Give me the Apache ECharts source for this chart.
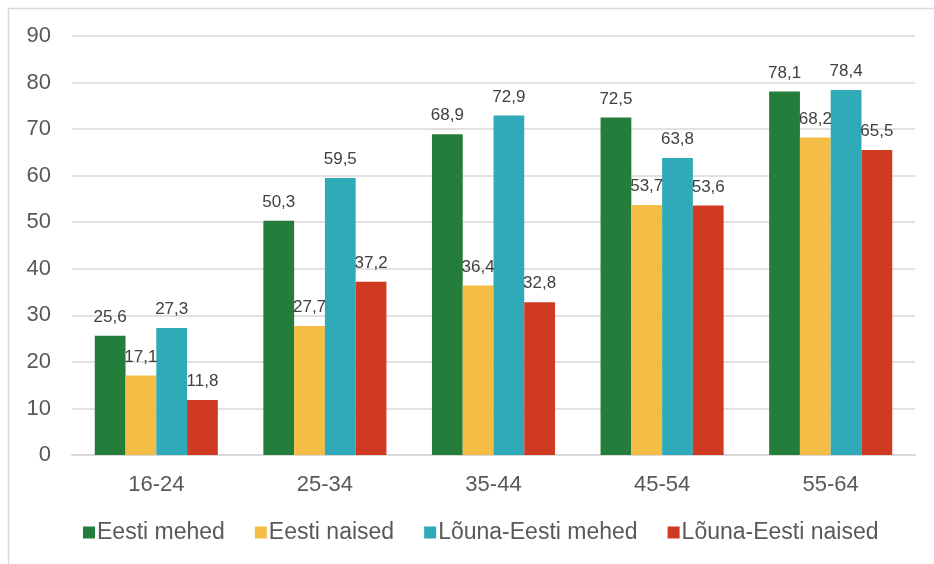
<!DOCTYPE html>
<html>
<head>
<meta charset="utf-8">
<script src="https://cdn.jsdelivr.net/npm/echarts@6/dist/echarts.min.js"></script>
<style>
  html, body { margin: 0; padding: 0; background: #fff; }
  #chart { width: 934px; height: 564px; }
</style>
</head>
<body>
<div id="chart"></div>
<script>
const categories = ['16-24', '25-34', '35-44', '45-54', '55-64']
const seriesNames = ['Eesti mehed', 'Eesti naised', 'Lõuna-Eesti mehed', 'Lõuna-Eesti naised']
const eestiMehed = [25.6, 50.3, 68.9, 72.5, 78.1]
const eestiNaised = [17.1, 27.7, 36.4, 53.7, 68.2]
const lounaMehed = [27.3, 59.5, 72.9, 63.8, 78.4]
const lounaNaised = [11.8, 37.2, 32.8, 53.6, 65.5]
const colors = ['#257D3B', '#F4BD45', '#30A9B8', '#D13A22']

const chart = echarts.init(document.getElementById('chart'))
const font = 'Liberation Sans, Arial, sans-serif'

function makeSeries(name, data, i) {
  return {
    name: name,
    type: 'bar',
    data: data,
    barGap: '0%',
    barCategoryGap: '27%',
    itemStyle: { color: colors[i] },
    label: {
      show: true,
      position: 'top',
      distance: 10,
      color: '#404040',
      fontSize: 17,
      fontFamily: font,
      formatter: (p) => p.value.toFixed(1).replace('.', ',')
    }
  }
}

chart.setOption({
  animation: false,
  textStyle: { fontFamily: font },
  graphic: [{
    type: 'rect',
    shape: { x: 8.5, y: 8.5, width: 1000, height: 1000 },
    style: { fill: 'none', stroke: '#d9d9d9', lineWidth: 1.5 },
    silent: true
  }],
  grid: { left: 72, right: 19, top: 36, bottom: 109 },
  legend: {
    bottom: 15,
    left: 78,
    itemWidth: 12,
    itemHeight: 12,
    itemGap: 30,
    icon: 'rect',
    textStyle: { fontSize: 23, color: '#595959', fontFamily: font, padding: [0, 0, 0, -3] },
    data: seriesNames
  },
  xAxis: {
    type: 'category',
    data: categories,
    axisTick: { show: false },
    axisLine: { lineStyle: { color: '#d9d9d9', width: 2 } },
    axisLabel: { fontSize: 22, color: '#595959', margin: 19, fontFamily: font }
  },
  yAxis: {
    type: 'value',
    min: 0,
    max: 90,
    interval: 10,
    axisLine: { show: false },
    axisTick: { show: false },
    axisLabel: { fontSize: 22, color: '#595959', margin: 21, fontFamily: font },
    splitLine: { lineStyle: { color: '#d9d9d9', width: 1.5 } }
  },
  series: [
    makeSeries(seriesNames[0], eestiMehed, 0),
    makeSeries(seriesNames[1], eestiNaised, 1),
    makeSeries(seriesNames[2], lounaMehed, 2),
    makeSeries(seriesNames[3], lounaNaised, 3)
  ]
})
</script>
</body>
</html>
